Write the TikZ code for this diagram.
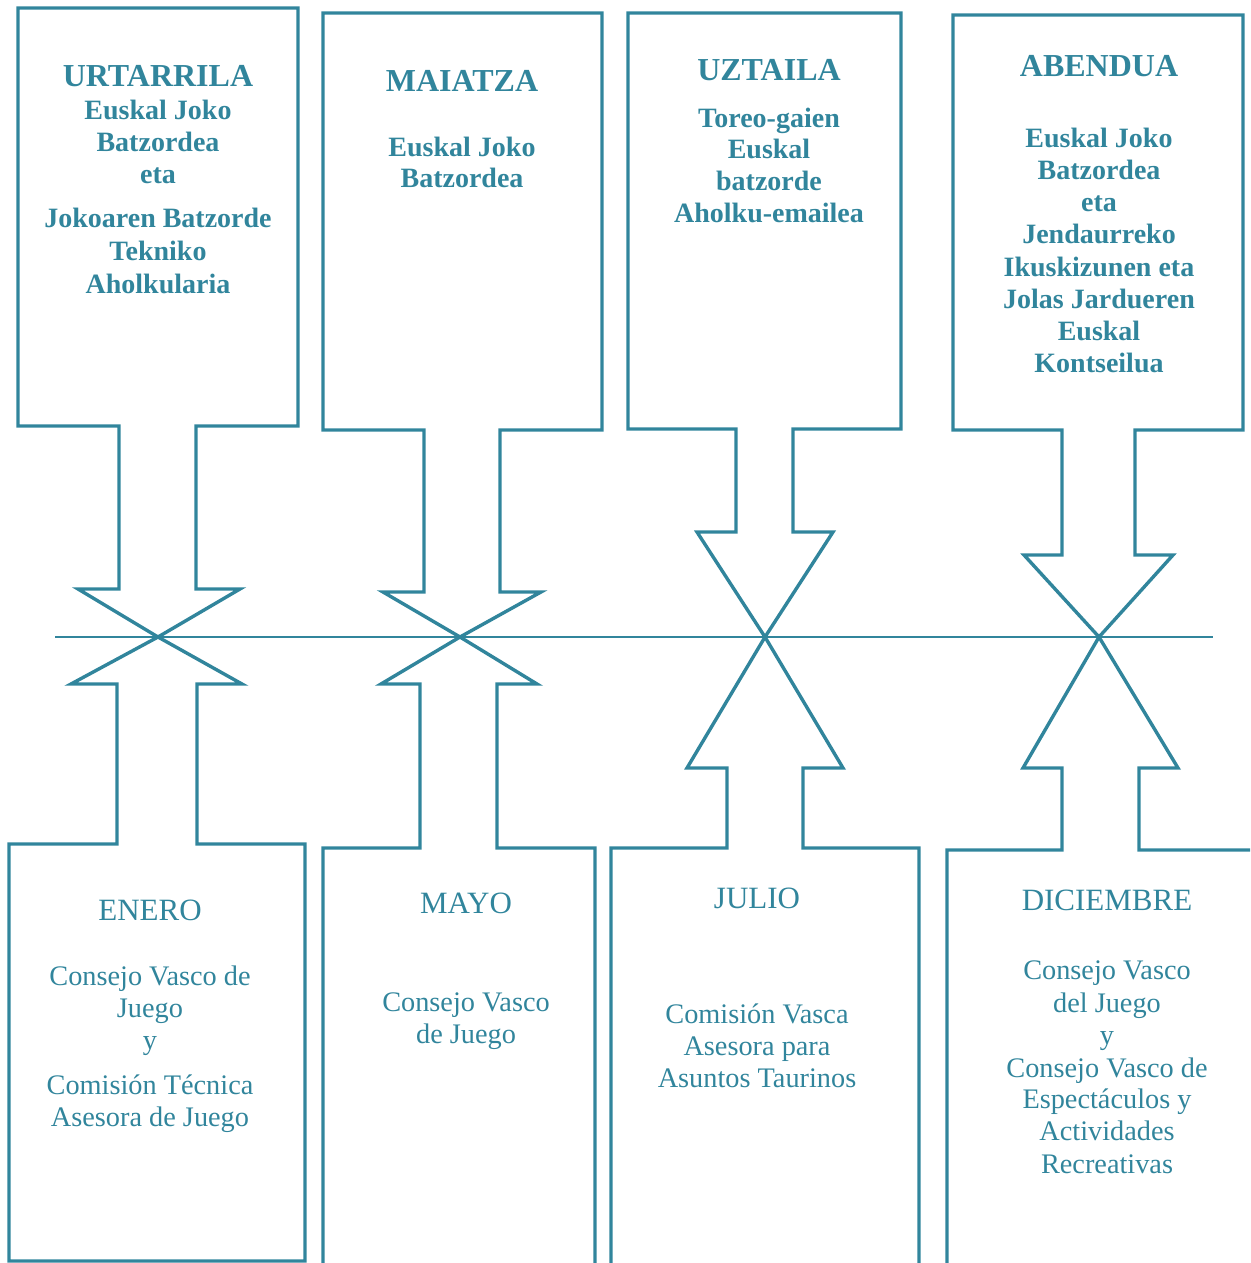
\documentclass[tikz,border=0pt]{standalone}
\usepackage{fontspec}
\setmainfont{Liberation Serif}
\definecolor{teal5}{HTML}{31859C}
\begin{document}
\begin{tikzpicture}[x=1pt,y=-1pt,
  shp/.style={draw=teal5, line width=3.4pt, line join=miter},
  axisline/.style={draw=teal5, line width=2.8pt},
  tophead/.style={anchor=base, inner sep=0pt, text=teal5, font=\fontsize{32}{36}\selectfont\bfseries},
  topbody/.style={anchor=base, inner sep=0pt, text=teal5, font=\fontsize{28}{32}\selectfont\bfseries},
  bothead/.style={anchor=base, inner sep=0pt, text=teal5, font=\fontsize{31}{36}\selectfont},
  botbody/.style={anchor=base, inner sep=0pt, text=teal5, font=\fontsize{28.3}{32}\selectfont}]
\useasboundingbox (0,0) rectangle (1250,1263);
\clip (0,0) rectangle (1250,1263);

% tips on the time line
\coordinate (tip1) at (158,637);
\coordinate (tip2) at (460,637);
\coordinate (tip3) at (765,637);
\coordinate (tip4) at (1099,637);
\coordinate (lineL) at (55,637);
\coordinate (lineR) at (1213,637);

% time line
\draw[axisline] (lineL) -- (lineR);

% top callouts
\draw[shp] (18,8) -- (298,8) -- (298,426) -- (196,426) -- (196,589) -- (240,589) -- (tip1)
  -- (78,589) -- (119,589) -- (119,426) -- (18,426) -- cycle;
\draw[shp] (323,13) -- (602,13) -- (602,430) -- (500,430) -- (500,592) -- (541,592) -- (tip2)
  -- (383,592) -- (424,592) -- (424,430) -- (323,430) -- cycle;
\draw[shp] (628,13) -- (901,13) -- (901,429) -- (793,429) -- (793,532) -- (833,532) -- (tip3)
  -- (697,532) -- (736,532) -- (736,429) -- (628,429) -- cycle;
\draw[shp] (953,15) -- (1243,15) -- (1243,430) -- (1135,430) -- (1135,555) -- (1173,555) -- (tip4)
  -- (1024,555) -- (1062,555) -- (1062,430) -- (953,430) -- cycle;

% bottom callouts
\draw[shp] (tip1) -- (242,684) -- (197,684) -- (197,844) -- (305,844) -- (305,1261)
  -- (9,1261) -- (9,844) -- (117,844) -- (117,684) -- (71,684) -- cycle;
\draw[shp] (tip2) -- (537,684) -- (497,684) -- (497,848) -- (595,848) -- (595,1290)
  -- (323,1290) -- (323,848) -- (420,848) -- (420,684) -- (381,684) -- cycle;
\draw[shp] (tip3) -- (843,768) -- (803,768) -- (803,848) -- (919,848) -- (919,1290)
  -- (611,1290) -- (611,848) -- (727,848) -- (727,768) -- (687,768) -- cycle;
\draw[shp] (tip4) -- (1178,768) -- (1139,768) -- (1139,850) -- (1275,850) -- (1275,1290)
  -- (947,1290) -- (947,850) -- (1062,850) -- (1062,768) -- (1023,768) -- cycle;

% top texts
\node[tophead] (h1) at (158,86) {URTARRILA};
\foreach \yy/\txt [count=\i] in {119/Euskal Joko, 151/Batzordea, 183/eta,
  227/Jokoaren Batzorde, 260/Tekniko, 293/Aholkularia}
  \node[topbody] (ta\i) at (158,\yy) {\txt};

\node[tophead] (h2) at (462,91) {MAIATZA};
\foreach \yy/\txt [count=\i] in {156/Euskal Joko, 187/Batzordea}
  \node[topbody] (tb\i) at (462,\yy) {\txt};

\node[tophead] (h3) at (769,81) {UZTAILA};
\foreach \yy/\txt [count=\i] in {127/Toreo-gaien, 158/Euskal, 190/batzorde, 222/Aholku-emailea}
  \node[topbody] (tc\i) at (769,\yy) {\txt};

\node[tophead] (h4) at (1099,77) {ABENDUA};
\foreach \yy/\txt [count=\i] in {147/Euskal Joko, 179/Batzordea, 211/eta, 243/Jendaurreko,
  276/Ikuskizunen eta, 308/Jolas Jardueren, 340/Euskal, 372/Kontseilua}
  \node[topbody] (td\i) at (1099,\yy) {\txt};

% bottom texts
\node[bothead] (g1) at (150,920) {ENERO};
\foreach \yy/\txt [count=\i] in {985/Consejo Vasco de, 1017/Juego, 1049/y,
  1094/Comisión Técnica, 1126/Asesora de Juego}
  \node[botbody] (ba\i) at (150,\yy) {\txt};

\node[bothead] (g2) at (466,913) {MAYO};
\foreach \yy/\txt [count=\i] in {1011/Consejo Vasco, 1043/de Juego}
  \node[botbody] (bb\i) at (466,\yy) {\txt};

\node[bothead] (g3) at (757,908) {JULIO};
\foreach \yy/\txt [count=\i] in {1023/Comisión Vasca, 1055/Asesora para, 1087/Asuntos Taurinos}
  \node[botbody] (bc\i) at (757,\yy) {\txt};

\node[bothead] (g4) at (1107,910) {DICIEMBRE};
\foreach \yy/\txt [count=\i] in {979/Consejo Vasco, 1012/del Juego, 1044/y, 1077/Consejo Vasco de,
  1108/Espectáculos y, 1140/Actividades, 1173/Recreativas}
  \node[botbody] (bd\i) at (1107,\yy) {\txt};
\end{tikzpicture}
\end{document}
